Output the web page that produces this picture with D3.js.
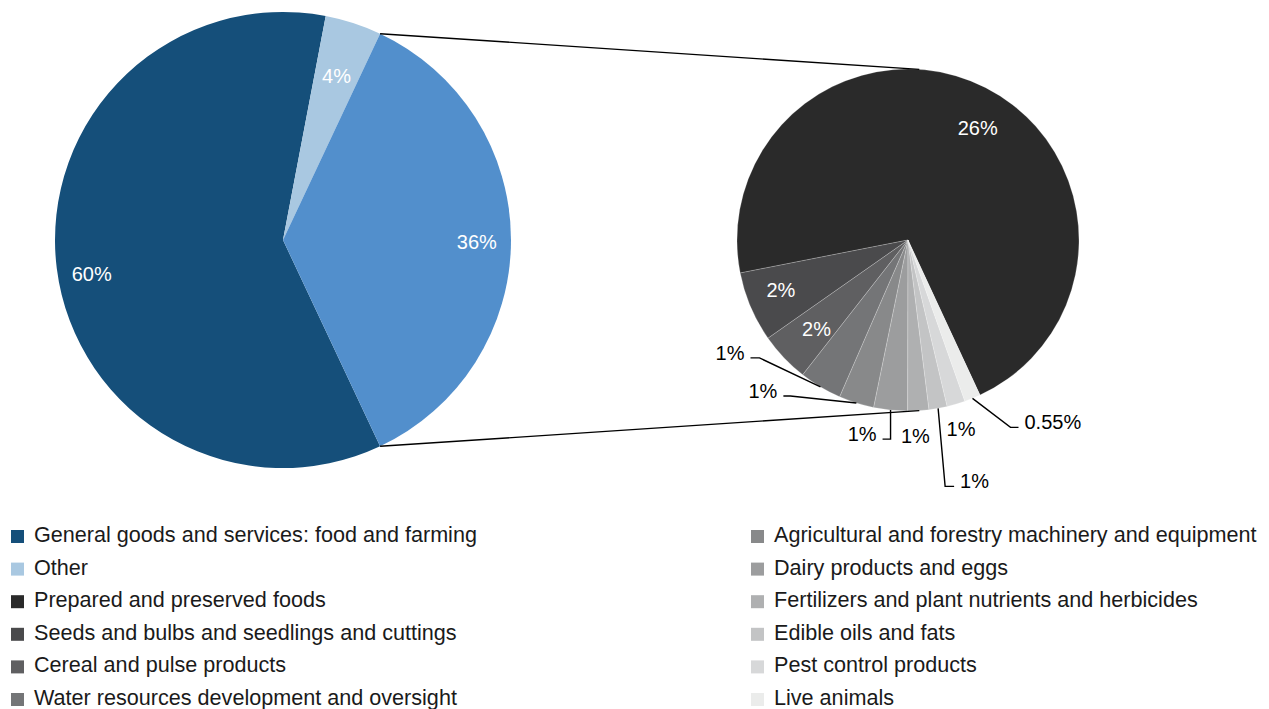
<!DOCTYPE html>
<html>
<head>
<meta charset="utf-8">
<script src="https://cdn.jsdelivr.net/npm/d3@7"></script>
<style>
    body { margin: 0; background: #ffffff; }
    svg { font-family: "Liberation Sans", Arial, sans-serif; }
</style>
</head>
<body>
<svg id="canvas" width="1269" height="709"></svg>
<script>
// main pie (the 36% slice is broken out into the second pie)
const mainNames = ['General goods and services: food and farming', 'Other', 'Food and farming products']
const mainValues = [60, 4, 36]
const mainText = ['60%', '4%', '36%']
const mainColors = ['#154f7a', '#a9c8e1', '#528fcc']

// breakdown of the 36% slice
const subNames = [
    'Prepared and preserved foods',
    'Seeds and bulbs and seedlings and cuttings',
    'Cereal and pulse products',
    'Water resources development and oversight',
    'Agricultural and forestry machinery and equipment',
    'Dairy products and eggs',
    'Fertilizers and plant nutrients and herbicides',
    'Edible oils and fats',
    'Pest control products',
    'Live animals'
]
const subValues = [25.7, 2.4, 1.7, 1.45, 1.2, 1.15, 0.72, 0.62, 0.62, 0.55]
const subText = ['26%', '2%', '2%', '1%', '1%', '1%', '1%', '1%', '1%', '0.55%']
const subColors = ['#2a2a2a', '#4a4a4c', '#5f5f61', '#747577', '#88898a',
                   '#9c9d9e', '#afb0b1', '#c3c4c5', '#d7d8d9', '#ebeceb']

// small nudges for the inside labels of the first pie
const mainLabelNudge = [[1, 10], [0, 1], [0, 2]]

// how each label of the second pie is placed
const subLabelLayout = [
    {type: 'in', nudge: [10, 5]},
    {type: 'in', nudge: [-6, -2]},
    {type: 'in', nudge: [4, -2]},
    {type: 'leader', elbow: [-61, -29], run: -9},
    {type: 'leader', elbow: [-66, -7], run: -7},
    {type: 'leader', elbow: [0, 29], run: -8},
    {type: 'near', shift: [-3, 25]},
    {type: 'leader', elbow: [7, 78], run: 9},
    {type: 'near', shift: [5, 25]},
    {type: 'leader', elbow: [38, 29], run: 8}
]

let canvas = d3.select('#canvas')
const deg = Math.PI / 180

// geometry
const c1 = {x: 283, y: 240, r: 228}
const c2 = {x: 908, y: 240, r: 171}

// first pie: the broken-out slice is centred on 3 o'clock
let mainTotal = d3.sum(mainValues)
let before = d3.sum(mainValues.slice(0, 2)) + mainValues[2] / 2
let start1 = 90 * deg - before / mainTotal * 2 * Math.PI

let pie1 = d3.pie().sort(null).value(d => d)
        .startAngle(start1).endAngle(start1 + 2 * Math.PI)
let arcs1 = pie1(mainValues)

let arc1 = d3.arc().innerRadius(0).outerRadius(c1.r)

let g1 = canvas.append('g').attr('transform', `translate(${c1.x},${c1.y})`)

g1.selectAll('path')
    .data(arcs1)
    .enter()
    .append('path')
    .attr('d', arc1)
    .attr('fill', (d, i) => mainColors[i])

g1.selectAll('text')
    .data(arcs1)
    .enter()
    .append('text')
    .attr('transform', (d, i) => {
        let span = d.endAngle - d.startAngle
        let rr = c1.r * (span < 0.3 ? 0.76 : 0.85)
        let a = (d.startAngle + d.endAngle) / 2
        let n = mainLabelNudge[i]
        return `translate(${rr * Math.sin(a) + n[0]},${-rr * Math.cos(a) + n[1]})`
    })
    .attr('text-anchor', 'middle')
    .attr('dy', '0.35em')
    .attr('fill', '#ffffff')
    .attr('font-size', 20)
    .text((d, i) => mainText[i])

// second pie goes counter clockwise from the edge of the big slice
let start2 = 155.1 * deg
let pie2 = d3.pie().sort(null).value(d => d)
        .startAngle(start2).endAngle(start2 - 2 * Math.PI)
let arcs2 = pie2(subValues)

let arc2 = d3.arc().innerRadius(0).outerRadius(c2.r)

let g2 = canvas.append('g').attr('transform', `translate(${c2.x},${c2.y})`)

g2.selectAll('path')
    .data(arcs2)
    .enter()
    .append('path')
    .attr('d', arc2)
    .attr('fill', (d, i) => subColors[i])
    .attr('stroke', '#ffffff')
    .attr('stroke-opacity', 0.35)
    .attr('stroke-width', 0.6)

arcs2.forEach((d, i) => {
    let lay = subLabelLayout[i]
    let a = (d.startAngle + d.endAngle) / 2
    let px = c2.r * Math.sin(a)
    let py = -c2.r * Math.cos(a)

    if (lay.type === 'in') {
        let rr = c2.r * 0.77
        g2.append('text')
            .attr('x', rr * Math.sin(a) + lay.nudge[0])
            .attr('y', -rr * Math.cos(a) + lay.nudge[1])
            .attr('dy', '0.35em')
            .attr('text-anchor', 'middle')
            .attr('fill', '#ffffff')
            .attr('font-size', 20)
            .text(subText[i])
    } else if (lay.type === 'near') {
        g2.append('text')
            .attr('x', px + lay.shift[0])
            .attr('y', py + lay.shift[1])
            .attr('dy', '0.35em')
            .attr('text-anchor', 'middle')
            .attr('fill', '#000000')
            .attr('font-size', 20)
            .text(subText[i])
    } else {
        let ex = px + lay.elbow[0]
        let ey = py + lay.elbow[1]
        let fx = ex + lay.run
        g2.append('path')
            .attr('d', d3.line()([[px, py], [ex, ey], [fx, ey]]))
            .attr('fill', 'none')
            .attr('stroke', '#000000')
            .attr('stroke-width', 1.4)
        g2.append('text')
            .attr('x', fx + (lay.run < 0 ? -6 : 6))
            .attr('y', ey + 2)
            .attr('text-anchor', lay.run < 0 ? 'end' : 'start')
            .attr('fill', '#000000')
            .attr('font-size', 20)
            .text(subText[i])
    }
})

// connector lines: from the edges of the 36% slice, tangent to the second pie
function tangentPoint (px, py, side) {
    let vx = px - c2.x
    let vy = py - c2.y
    let d = Math.hypot(vx, vy)
    let base = Math.atan2(vy, vx)
    let t = Math.acos(c2.r / d)
    let ang = base + side * t
    return [c2.x + c2.r * Math.cos(ang), c2.y + c2.r * Math.sin(ang)]
}

let split = arcs1[2]
;[[split.startAngle, 1], [split.endAngle, -1]].forEach(([a, side]) => {
    let px = c1.x + c1.r * Math.sin(a)
    let py = c1.y - c1.r * Math.cos(a)
    let t = tangentPoint(px, py, side)
    canvas.append('line')
        .attr('x1', px).attr('y1', py)
        .attr('x2', t[0]).attr('y2', t[1])
        .attr('stroke', '#000000')
        .attr('stroke-width', 1.4)
})

// legend: two columns of six
let legendNames = [mainNames[0], mainNames[1]].concat(subNames)
let legendColors = [mainColors[0], mainColors[1]].concat(subColors)

let legend = canvas.append('g')
let item = legend.selectAll('g')
    .data(legendNames)
    .enter()
    .append('g')
    .attr('transform', (d, i) => {
        let col = Math.floor(i / 6)
        let row = i % 6
        return `translate(${col === 0 ? 11 : 751},${542 + row * 32.6})`
    })

item.append('rect')
    .attr('x', 0)
    .attr('y', -12)
    .attr('width', 13)
    .attr('height', 13)
    .attr('fill', (d, i) => legendColors[i])

item.append('text')
    .attr('x', 23)
    .attr('y', 0)
    .attr('font-size', 21.6)
    .attr('fill', '#1a1a1a')
    .text(d => d)
</script>
</body>
</html>
